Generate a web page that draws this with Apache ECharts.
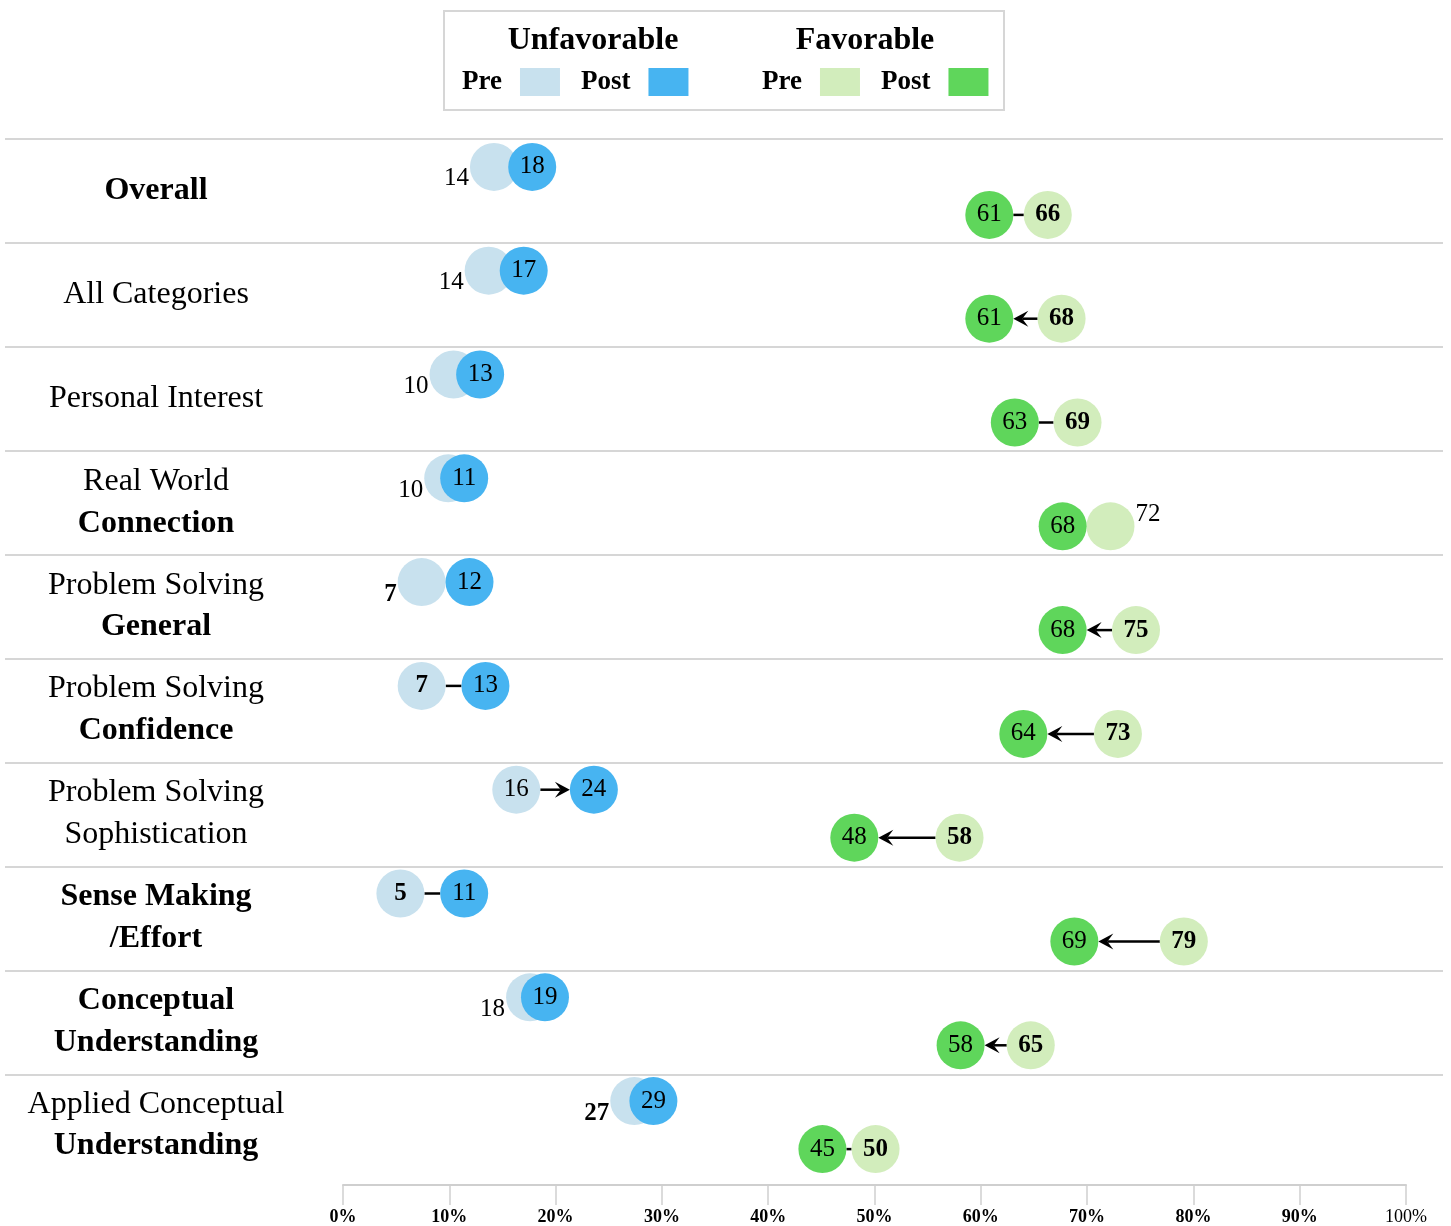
<!DOCTYPE html>
<html>
<head>
<meta charset="utf-8">
<script src="https://cdn.jsdelivr.net/npm/echarts@6/dist/echarts.min.js"></script>
<style>html,body{margin:0;padding:0;background:#fff;}#c{width:1451px;height:1226px;}</style>
</head>
<body>
<div id="c"></div>
<script>
// ---- data ----
const categories = [
  'Overall',
  'All Categories',
  'Personal Interest',
  'Real World\nConnection',
  'Problem Solving\nGeneral',
  'Problem Solving\nConfidence',
  'Problem Solving\nSophistication',
  'Sense Making\n/Effort',
  'Conceptual\nUnderstanding',
  'Applied Conceptual\nUnderstanding'
];
const unfavPre  = [14.2, 13.7, 10.4, 9.9, 7.4, 7.4, 16.3, 5.4, 17.6, 27.4];
const unfavPost = [17.8, 17.0, 12.9, 11.4, 11.9, 13.4, 23.6, 11.4, 19.0, 29.2];
const favPre    = [66.3, 67.6, 69.1, 72.2, 74.6, 72.9, 58.0, 79.1, 64.7, 50.1];
const favPost   = [60.8, 60.8, 63.2, 67.7, 67.7, 64.0, 48.1, 68.8, 58.1, 45.1];
const xTicks = [0, 10, 20, 30, 40, 50, 60, 70, 80, 90, 100];

// ---- styles ----
const FONT = 'Liberation Serif';
const C_UPRE = '#c8e1ee', C_UPOST = '#47b4f1', C_FPRE = '#d2edbc', C_FPOST = '#5fd65b';
const R = 24, OFF = 24;
const catBold = [[1],[0],[0],[0,1],[0,1],[0,1],[0,0],[1,1],[1,1],[0,1]];
const unfavPreBold = [0,0,0,0,1,1,0,1,0,1];
const favPreBold   = [1,1,1,0,1,1,1,1,1,1];

function preData(pre, post, boldArr, side) {
  return pre.map((v, i) => {
    const overlap = Math.abs(post[i] - v) < 4.6;
    const lbl = { fontWeight: boldArr[i] ? 'bold' : 'normal' };
    if (overlap) {
      if (side === 'left') { lbl.position = 'left'; lbl.distance = 1; lbl.offset = [0, 12]; }
      else { lbl.position = 'right'; lbl.distance = 1; lbl.offset = [0, -12]; }
    }
    return { value: [v, i], label: lbl };
  });
}
function postData(post) { return post.map((v, i) => [v, i]); }

function connectorRender(off) {
  return function (params, api) {
    const pre = api.value(0), post = api.value(1), cat = api.value(2);
    const p1 = api.coord([pre, cat]), p2 = api.coord([post, cat]);
    const y = p1[1] + off;
    const dir = p2[0] >= p1[0] ? 1 : -1;
    const gap = Math.abs(p2[0] - p1[0]) - 2 * R;
    if (gap <= 1) return null;
    const x1 = p1[0] + dir * R, x2 = p2[0] - dir * R;
    const children = [];
    if (gap > 18) {
      const hl = 15, hw = 8, notch = 9;
      children.push({ type: 'line', shape: { x1: x1, y1: y, x2: x2 - dir * notch, y2: y }, style: { stroke: '#000', lineWidth: 2.5 } });
      children.push({ type: 'polygon', shape: { points: [[x2, y], [x2 - dir * hl, y - hw], [x2 - dir * notch, y], [x2 - dir * hl, y + hw]] }, style: { fill: '#000' } });
    } else {
      children.push({ type: 'line', shape: { x1: x1, y1: y, x2: x2, y2: y }, style: { stroke: '#000', lineWidth: 2.5 } });
    }
    return { type: 'group', children: children };
  };
}

const labelBase = { show: true, position: 'inside', fontFamily: FONT, fontSize: 25, color: '#000',
  formatter: p => String(Math.round(p.value[0])) };

const richStyles = {
  n: { fontFamily: FONT, fontSize: 32, color: '#000', lineHeight: 42, fontWeight: 'normal' },
  b: { fontFamily: FONT, fontSize: 32, color: '#000', lineHeight: 42, fontWeight: 'bold' }
};

const chart = echarts.init(document.getElementById('c'), null, { renderer: 'canvas' });
const legendCommon = {
  top: 63, orient: 'horizontal', align: 'right', icon: 'rect', itemWidth: 40, itemHeight: 28, itemGap: 21,
  selectedMode: false,
  formatter: name => name.split(' ')[1],
  textStyle: { fontFamily: FONT, fontSize: 27, fontWeight: 'bold', color: '#000', padding: [0, 13, 0, 0] }
};

chart.setOption({
  animation: false,
  backgroundColor: '#fff',
  title: [
    { text: 'Unfavorable', left: 588, top: 20, textAlign: 'center', textStyle: { fontFamily: FONT, fontSize: 32, fontWeight: 'bold', color: '#000' } },
    { text: 'Favorable', left: 860, top: 20, textAlign: 'center', textStyle: { fontFamily: FONT, fontSize: 32, fontWeight: 'bold', color: '#000' } }
  ],
  legend: [
    Object.assign({ left: 457, data: ['Unfavorable Pre', 'Unfavorable Post'] }, legendCommon),
    Object.assign({ left: 757, data: ['Favorable Pre', 'Favorable Post'] }, legendCommon)
  ],
  graphic: [
    { type: 'rect', shape: { x: 444, y: 11, width: 560, height: 99 }, style: { fill: 'none', stroke: '#d6d6d6', lineWidth: 2 }, silent: true }
  ],
  grid: [
    { left: 343, right: 45, top: 139, bottom: 47 },
    { left: 5, right: 8, top: 139, bottom: 47 }
  ],
  xAxis: [
    {
      type: 'value', gridIndex: 0, min: 0, max: 100, interval: 10, offset: 8,
      axisLine: { show: true, lineStyle: { color: '#cfcfcf', width: 2 } },
      axisTick: { show: true, length: 20, lineStyle: { color: '#cfcfcf', width: 1.5 } },
      splitLine: { show: false },
      axisLabel: {
        margin: 23,
        formatter: v => v === 100 ? '{n|' + v + '%}' : '{b|' + v + '%}',
        rich: {
          n: { fontFamily: FONT, fontSize: 18, color: '#000', fontWeight: 'normal' },
          b: { fontFamily: FONT, fontSize: 18, color: '#000', fontWeight: 'bold' }
        }
      }
    },
    { type: 'value', gridIndex: 1, min: 0, max: 1, show: false }
  ],
  yAxis: [
    {
      type: 'category', gridIndex: 0, data: categories, inverse: true,
      axisLine: { show: false }, axisTick: { show: false }, splitLine: { show: false },
      axisLabel: {
        margin: 187, align: 'center',
        formatter: (val, idx) => val.split('\n').map((ln, k) => '{' + (catBold[idx][k] ? 'b' : 'n') + '|' + ln + '}').join('\n'),
        rich: richStyles
      }
    },
    {
      type: 'category', gridIndex: 1, data: categories, inverse: true,
      axisLine: { show: false }, axisTick: { show: false }, axisLabel: { show: false },
      splitLine: { show: true, showMaxLine: false, lineStyle: { color: '#d6d6d6', width: 2 } }
    }
  ],
  series: [
    {
      type: 'custom', name: 'unfavConn', xAxisIndex: 0, yAxisIndex: 0,
      renderItem: connectorRender(-OFF), encode: { x: [0, 1], y: 2 },
      data: unfavPre.map((v, i) => [v, unfavPost[i], i]), z: 1, silent: true
    },
    {
      type: 'custom', name: 'favConn', xAxisIndex: 0, yAxisIndex: 0,
      renderItem: connectorRender(OFF), encode: { x: [0, 1], y: 2 },
      data: favPre.map((v, i) => [v, favPost[i], i]), z: 1, silent: true
    },
    {
      type: 'scatter', name: 'Unfavorable Pre', symbolSize: 2 * R, symbolOffset: [0, -OFF],
      itemStyle: { color: C_UPRE, opacity: 1 }, label: labelBase, z: 2,
      emphasis: { disabled: true }, data: preData(unfavPre, unfavPost, unfavPreBold, 'left')
    },
    {
      type: 'scatter', name: 'Unfavorable Post', symbolSize: 2 * R, symbolOffset: [0, -OFF],
      itemStyle: { color: C_UPOST, opacity: 1 }, label: labelBase, z: 3,
      emphasis: { disabled: true }, data: postData(unfavPost)
    },
    {
      type: 'scatter', name: 'Favorable Pre', symbolSize: 2 * R, symbolOffset: [0, OFF],
      itemStyle: { color: C_FPRE, opacity: 1 }, label: labelBase, z: 2,
      emphasis: { disabled: true }, data: preData(favPre, favPost, favPreBold, 'right')
    },
    {
      type: 'scatter', name: 'Favorable Post', symbolSize: 2 * R, symbolOffset: [0, OFF],
      itemStyle: { color: C_FPOST, opacity: 1 }, label: labelBase, z: 3,
      emphasis: { disabled: true }, data: postData(favPost)
    }
  ]
});
</script>
</body>
</html>
